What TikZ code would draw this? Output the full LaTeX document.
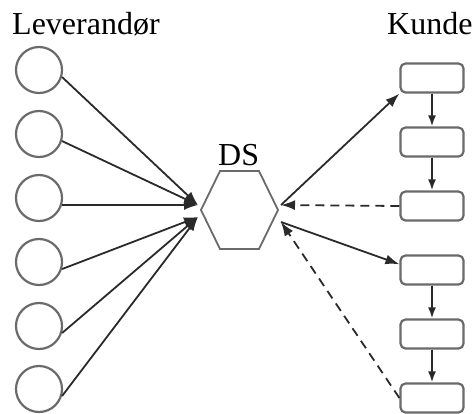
\documentclass[tikz,border=0pt]{standalone}
\usepackage{fontspec}
\setmainfont{Liberation Serif}
\usetikzlibrary{arrows.meta}
\definecolor{rim}{HTML}{6A6A6A}
\definecolor{ink}{HTML}{2A2A2A}
\begin{document}
\begin{tikzpicture}[x=1pt,y=-1pt,
    supplier/.style={circle,draw=rim,line width=2.2pt,minimum size=46pt,inner sep=0pt},
    customer/.style={rectangle,rounded corners=5pt,draw=rim,line width=2.2pt,
      minimum width=63pt,minimum height=29pt,inner sep=0pt},
    heading/.style={inner sep=0pt,font=\fontsize{32}{36}\selectfont},
    flow/.style={draw=ink,line width=1.8pt,-{Latex[length=14pt,width=10pt]}},
    reply/.style={flow,dash pattern=on 9pt off 6pt},
    chain/.style={draw=ink,line width=1.8pt,-{Latex[length=11pt,width=8pt]}}]
  \useasboundingbox (0,0) rectangle (473,414);
  \node[heading,anchor=base west] (lev) at (12,35) {Leverandør};
  \node[heading,anchor=base west] (kun) at (387,35) {Kunde};
  \node[heading,anchor=base west] (ds) at (218,165) {DS};
  % the hub
  \draw[rim,line width=1.8pt]
    (201,210) -- (220,171) -- (259,171) -- (278,210) -- (259,249) -- (220,249) -- cycle;
  \coordinate (in1) at (198,205);
  \coordinate (in2) at (198,217);
  \coordinate (out1) at (281,205);
  \coordinate (out2) at (281,222);
  \draw
    (39,70) node[supplier] (s1){}
    (39,134) node[supplier] (s2){}
    (39,198) node[supplier] (s3){}
    (39,262) node[supplier] (s4){}
    (39,326) node[supplier] (s5){}
    (39,389) node[supplier] (s6){};
  \draw
    (432,78) node[customer] (k1){}
    (432,142) node[customer] (k2){}
    (432,206) node[customer] (k3){}
    (432,270) node[customer] (k4){}
    (432,334) node[customer] (k5){}
    (432,398) node[customer] (k6){};
  \begin{scope}[flow]
    \draw (s1.-17) to (in1);
    \draw (s2.-17) to (in1);
    \draw (s3.-17) to (in1);
    \draw (s4.-17) to (in2);
    \draw (s5.-17) to (in2);
    \draw (s6.-17) to (in2);
    \draw (out1) to (k1.south west);
    \draw (out2) to (k4.170);
  \end{scope}
  \begin{scope}[reply]
    \draw (k3.west) to (out1);
    \draw (k6.west) to (out2);
  \end{scope}
  \begin{scope}[chain]
    \draw (k1) to (k2);
    \draw (k2) to (k3);
    \draw (k4) to (k5);
    \draw (k5) to (k6);
  \end{scope}
\end{tikzpicture}
\end{document}
